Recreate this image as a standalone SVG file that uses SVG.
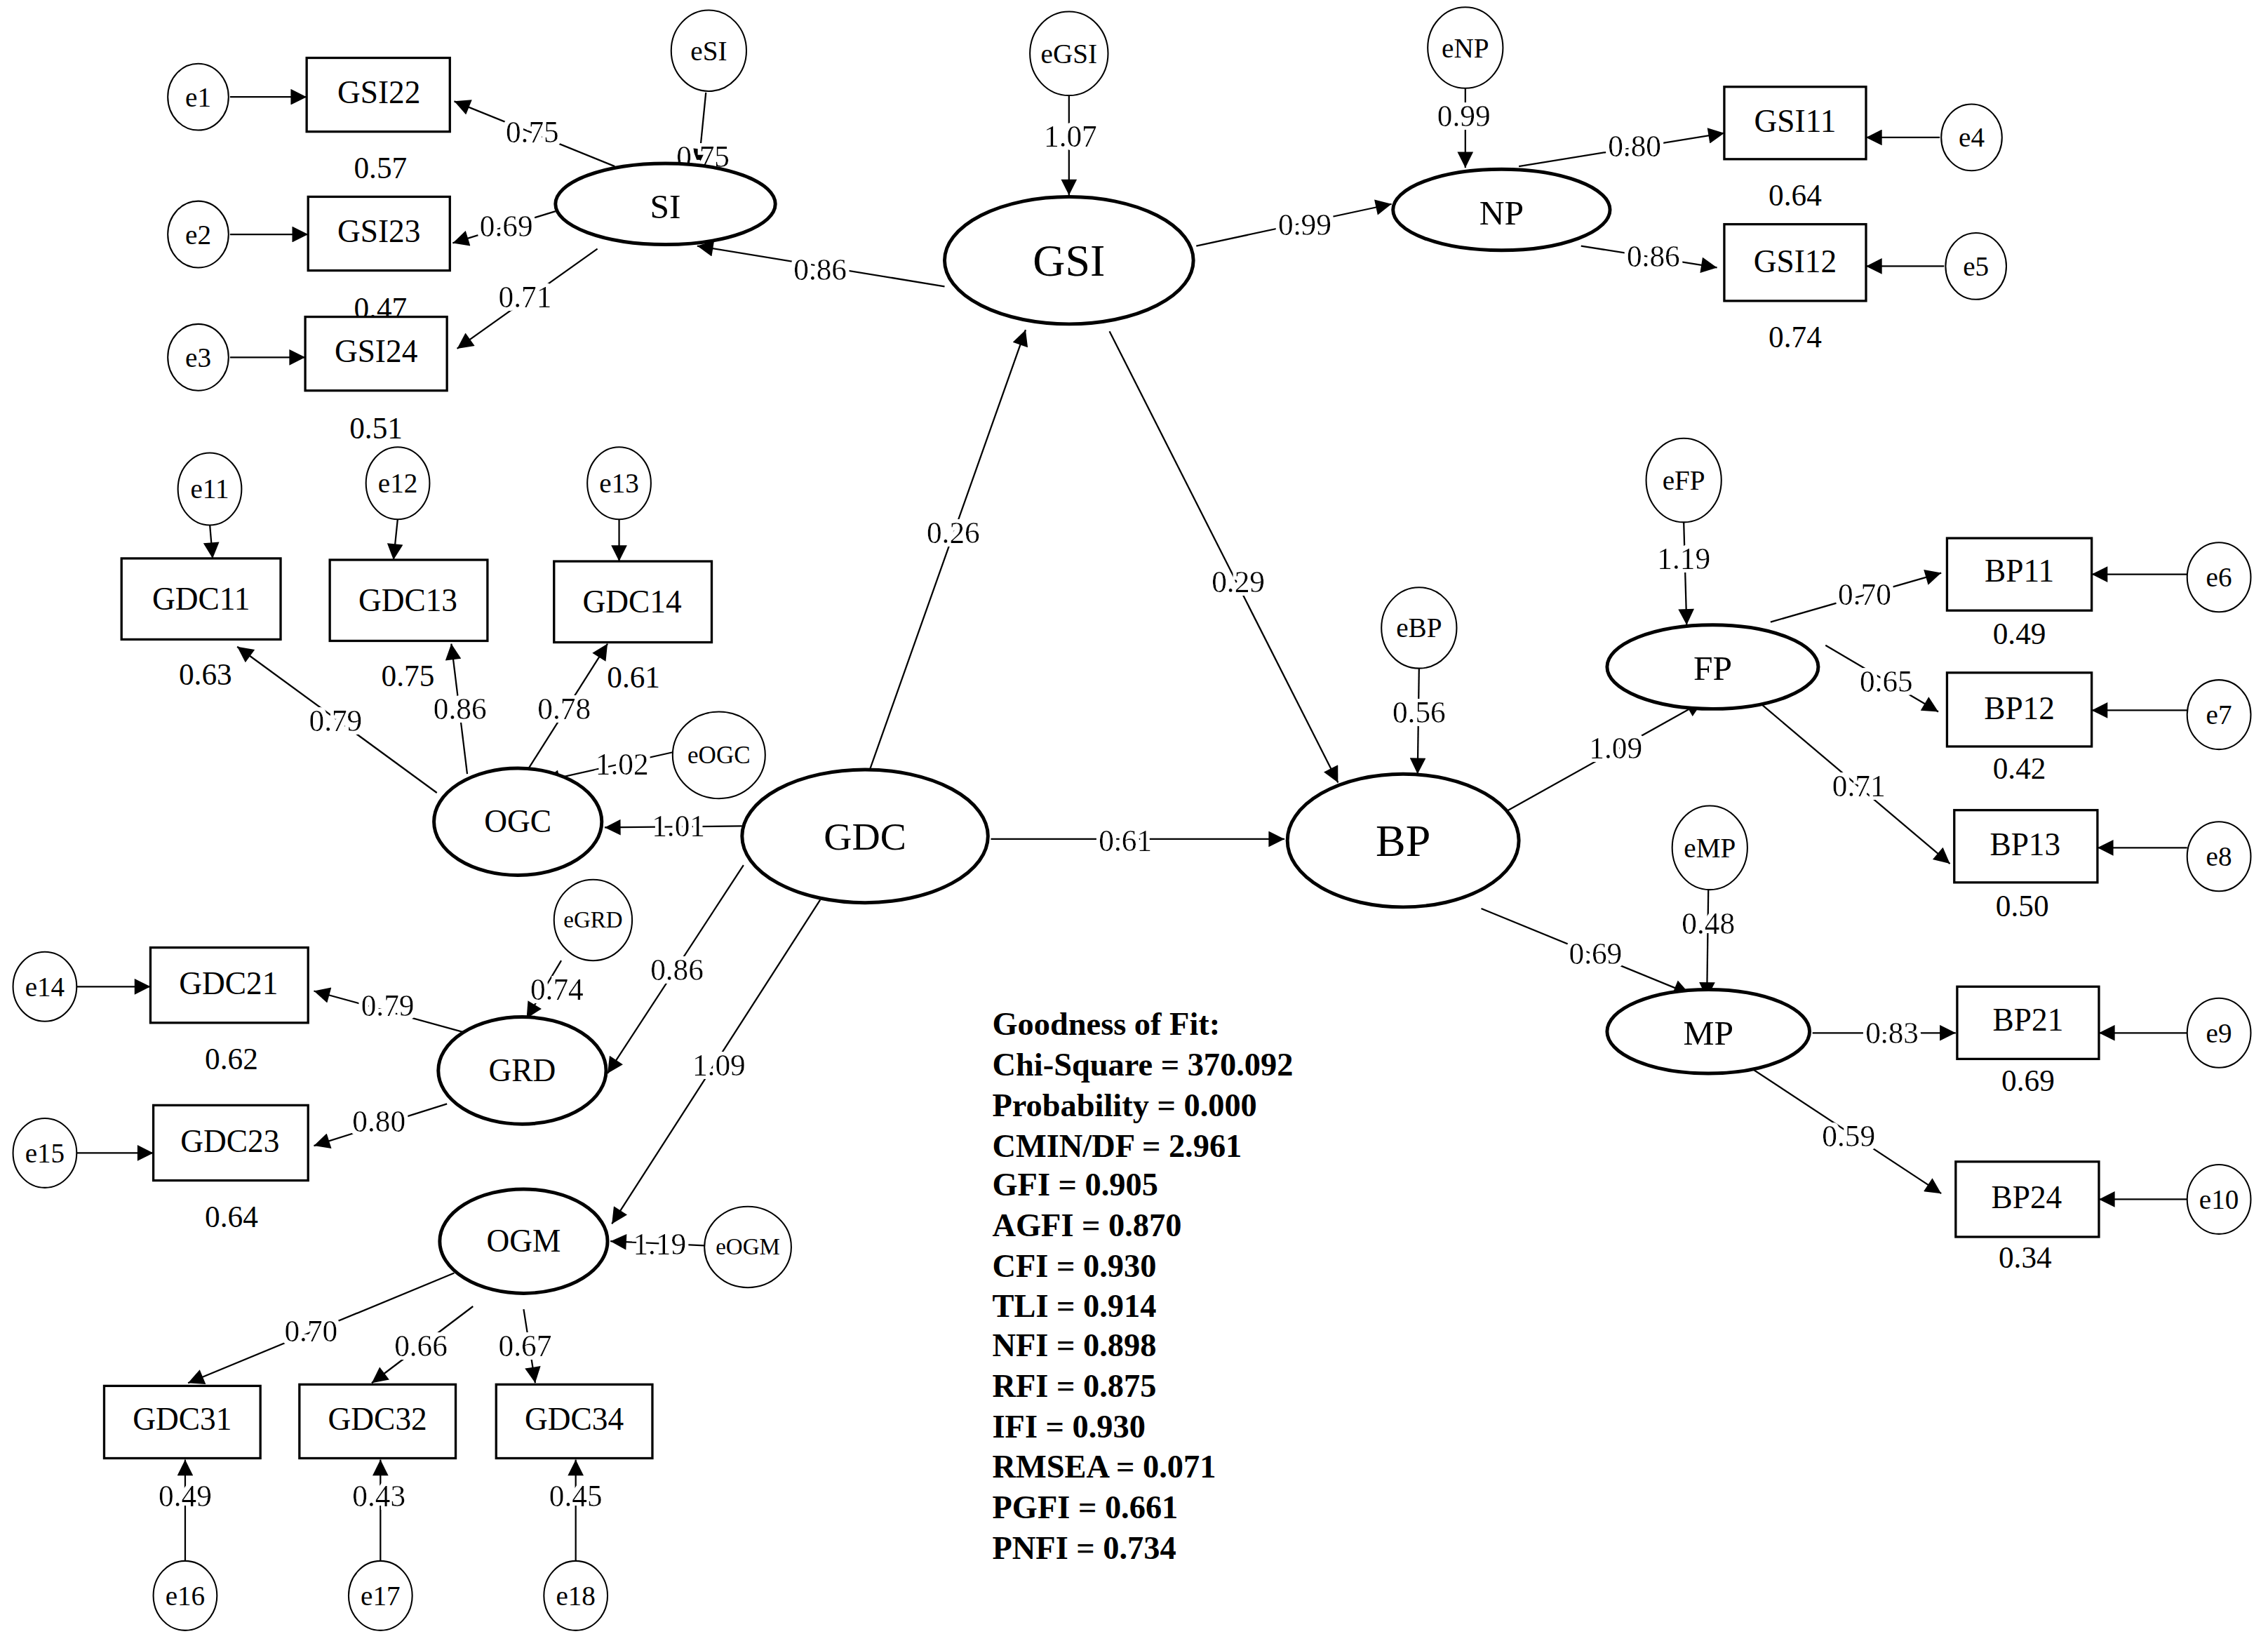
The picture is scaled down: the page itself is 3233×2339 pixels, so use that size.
<svg xmlns="http://www.w3.org/2000/svg" width="3233" height="2339" viewBox="0 0 3233 2339">
<style>
text{font-family:"Liberation Serif","Times New Roman",serif;text-anchor:middle;dominant-baseline:central;fill:#000}
.lab{font-size:22px}
.num{font-size:21px}
.nums text{filter:url(#halo)}
.err{font-size:19px}
.lat{font-size:24px}
.big{font-size:31px}
.e{fill:#fff;stroke:#000;stroke-width:1}
.r{fill:#fff;stroke:#000;stroke-width:1.6}
.l{fill:#fff;stroke:#000;stroke-width:2.4}
.c line{stroke:#000;stroke-width:1.1;marker-end:url(#a)}
.fit{font-size:22.5px;font-weight:bold;text-anchor:start}
</style>
<defs>
<marker id="a" viewBox="0 0 10 10" refX="10" refY="5" markerWidth="11" markerHeight="10" orient="auto"><path d="M0,0L10,5L0,10z" fill="#000"/></marker>
<filter id="halo" x="-20%" y="-20%" width="140%" height="140%"><feMorphology in="SourceAlpha" operator="dilate" radius="2.5" result="d"/><feFlood flood-color="#fff"/><feComposite in2="d" operator="in" result="w"/><feMerge><feMergeNode in="w"/><feMergeNode in="SourceGraphic"/></feMerge></filter>
</defs>
<rect width="3233" height="2339" fill="#fff"/>
<g transform="scale(2.062)">
<g id="connectors" class="c">
<line x1="159" y1="67" x2="212" y2="67"/><line x1="159" y1="162" x2="213" y2="162"/><line x1="159" y1="247" x2="211" y2="247"/>
<line x1="488" y1="64" x2="483" y2="114"/><line x1="739" y1="66" x2="739" y2="135"/><line x1="1013" y1="61" x2="1013" y2="116"/>
<line x1="425" y1="115" x2="314" y2="70"/><line x1="384" y1="146" x2="313" y2="168"/><line x1="413" y1="172" x2="316" y2="241"/>
<line x1="653" y1="198" x2="482" y2="170"/><line x1="827" y1="170" x2="962" y2="141"/>
<line x1="1050" y1="115" x2="1192" y2="92"/><line x1="1093" y1="170" x2="1187" y2="185"/>
<line x1="1341" y1="95" x2="1290" y2="95"/><line x1="1344" y1="184" x2="1290" y2="184"/>
<line x1="767" y1="229" x2="925" y2="541"/><line x1="596" y1="547" x2="709" y2="228"/>
<line x1="981" y1="462" x2="980" y2="535"/><line x1="685" y1="580" x2="888" y2="580"/>
<line x1="513" y1="571" x2="418" y2="572"/><line x1="465" y1="520" x2="376" y2="540"/>
<line x1="145" y1="362" x2="147" y2="386"/><line x1="275" y1="358" x2="272" y2="387"/><line x1="428" y1="358" x2="428" y2="388"/>
<line x1="302" y1="548" x2="164" y2="447"/><line x1="323" y1="535" x2="312" y2="445"/><line x1="363" y1="535" x2="420" y2="445"/>
<line x1="388" y1="664" x2="364" y2="704"/>
<line x1="53" y1="682" x2="104" y2="682"/><line x1="53" y1="797" x2="106" y2="797"/>
<line x1="326" y1="715" x2="217" y2="685"/><line x1="309" y1="763" x2="217" y2="792"/>
<line x1="514" y1="598" x2="420" y2="742"/><line x1="567" y1="622" x2="423" y2="846"/>
<line x1="487" y1="861" x2="422" y2="858"/>
<line x1="314" y1="880" x2="130" y2="956"/><line x1="327" y1="903" x2="257" y2="956"/><line x1="362" y1="905" x2="370" y2="956"/>
<line x1="128" y1="1079" x2="128" y2="1009"/><line x1="263" y1="1079" x2="263" y2="1009"/><line x1="398" y1="1079" x2="398" y2="1009"/>
<line x1="1164" y1="361" x2="1166" y2="432"/>
<line x1="1224" y1="430" x2="1342" y2="396"/><line x1="1262" y1="446" x2="1340" y2="492"/><line x1="1212" y1="482" x2="1348" y2="597"/>
<line x1="1512" y1="397" x2="1446" y2="397"/><line x1="1512" y1="491" x2="1446" y2="491"/><line x1="1512" y1="586" x2="1450" y2="586"/>
<line x1="1041" y1="561" x2="1177" y2="485"/>
<line x1="1181" y1="615" x2="1180" y2="690"/><line x1="1024" y1="628" x2="1168" y2="687"/>
<line x1="1253" y1="714" x2="1352" y2="714"/><line x1="1210" y1="738" x2="1342" y2="825"/>
<line x1="1512" y1="714" x2="1451" y2="714"/><line x1="1512" y1="829" x2="1451" y2="829"/>
<g class="nums">
<text class="num" x="368" y="91">0.75</text><text class="num" x="350" y="156">0.69</text><text class="num" x="363" y="205">0.71</text>
<text class="num" x="486" y="108">0.75</text><text class="num" x="740" y="94">1.07</text><text class="num" x="1012" y="80">0.99</text>
<text class="num" x="567" y="186">0.86</text><text class="num" x="902" y="155">0.99</text><text class="num" x="1130" y="101">0.80</text><text class="num" x="1143" y="177">0.86</text>
<text class="num" x="856" y="402">0.29</text><text class="num" x="659" y="368">0.26</text><text class="num" x="981" y="492">0.56</text>
<text class="num" x="778" y="581">0.61</text><text class="num" x="469" y="571">1.01</text><text class="num" x="430" y="528">1.02</text>
<text class="num" x="232" y="498">0.79</text><text class="num" x="318" y="490">0.86</text><text class="num" x="390" y="490">0.78</text>
<text class="num" x="385" y="684">0.74</text><text class="num" x="268" y="695">0.79</text><text class="num" x="262" y="775">0.80</text>
<text class="num" x="468" y="670">0.86</text><text class="num" x="497" y="736">1.09</text><text class="num" x="456" y="860">1.19</text>
<text class="num" x="215" y="920">0.70</text><text class="num" x="291" y="930">0.66</text><text class="num" x="363" y="930">0.67</text>
<text class="num" x="1164" y="386">1.19</text><text class="num" x="1289" y="411">0.70</text><text class="num" x="1304" y="471">0.65</text><text class="num" x="1285" y="543">0.71</text>
<text class="num" x="1117" y="517">1.09</text><text class="num" x="1181" y="638">0.48</text><text class="num" x="1103" y="659">0.69</text>
<text class="num" x="1308" y="714">0.83</text><text class="num" x="1278" y="785">0.59</text>
<text class="num" x="128" y="1034">0.49</text><text class="num" x="262" y="1034">0.43</text><text class="num" x="398" y="1034">0.45</text>
</g>
</g>
<g id="e1"><ellipse class="e" cx="137" cy="67" rx="21" ry="23"/><text class="err" x="137" y="67">e1</text></g>
<g id="e2"><ellipse class="e" cx="137" cy="162" rx="21" ry="23"/><text class="err" x="137" y="162">e2</text></g>
<g id="e3"><ellipse class="e" cx="137" cy="247" rx="21" ry="23"/><text class="err" x="137" y="247">e3</text></g>
<g id="GSI22"><rect class="r" x="212" y="40" width="99" height="51"/><text class="lab" x="262" y="64">GSI22</text><text class="num" x="263" y="116">0.57</text></g>
<g id="GSI23"><rect class="r" x="213" y="136" width="98" height="51"/><text class="lab" x="262" y="160">GSI23</text><text class="num" x="263" y="213">0.47</text></g>
<g id="GSI24"><rect class="r" x="211" y="219" width="98" height="51"/><text class="lab" x="260" y="243">GSI24</text><text class="num" x="260" y="296">0.51</text></g>
<g id="eSI"><ellipse class="e" cx="490" cy="35" rx="26" ry="28"/><text class="err" x="490" y="35">eSI</text></g>
<g id="SI"><ellipse class="l" cx="460" cy="141" rx="76" ry="28"/><text class="lat" x="460" y="143">SI</text></g>
<g id="eGSI"><ellipse class="e" cx="739" cy="37" rx="27" ry="29"/><text class="err" x="739" y="37">eGSI</text></g>
<g id="GSI"><ellipse class="l" cx="739" cy="180" rx="86" ry="44"/><text class="big" x="739" y="180">GSI</text></g>
<g id="eNP"><ellipse class="e" cx="1013" cy="33" rx="26" ry="28"/><text class="err" x="1013" y="33">eNP</text></g>
<g id="NP"><ellipse class="l" cx="1038" cy="145" rx="75" ry="28"/><text class="lat" x="1038" y="147">NP</text></g>
<g id="GSI11"><rect class="r" x="1192" y="60" width="98" height="50"/><text class="lab" x="1241" y="84">GSI11</text><text class="num" x="1241" y="135">0.64</text></g>
<g id="GSI12"><rect class="r" x="1192" y="155" width="98" height="53"/><text class="lab" x="1241" y="181">GSI12</text><text class="num" x="1241" y="233">0.74</text></g>
<g id="e4"><ellipse class="e" cx="1363" cy="95" rx="21" ry="23"/><text class="err" x="1363" y="95">e4</text></g>
<g id="e5"><ellipse class="e" cx="1366" cy="184" rx="21" ry="23"/><text class="err" x="1366" y="184">e5</text></g>
<g id="e11"><ellipse class="e" cx="145" cy="338" rx="22" ry="25"/><text class="err" x="145" y="338">e11</text></g>
<g id="e12"><ellipse class="e" cx="275" cy="334" rx="22" ry="25"/><text class="err" x="275" y="334">e12</text></g>
<g id="e13"><ellipse class="e" cx="428" cy="334" rx="22" ry="25"/><text class="err" x="428" y="334">e13</text></g>
<g id="GDC11"><rect class="r" x="84" y="386" width="110" height="56"/><text class="lab" x="139" y="414">GDC11</text><text class="num" x="142" y="466">0.63</text></g>
<g id="GDC13"><rect class="r" x="228" y="387" width="109" height="56"/><text class="lab" x="282" y="415">GDC13</text><text class="num" x="282" y="467">0.75</text></g>
<g id="GDC14"><rect class="r" x="383" y="388" width="109" height="56"/><text class="lab" x="437" y="416">GDC14</text><text class="num" x="438" y="468">0.61</text></g>
<g id="eOGC"><ellipse class="e" cx="497" cy="522" rx="32" ry="30"/><text class="err" x="497" y="522" style="font-size:17px">eOGC</text></g>
<g id="OGC"><ellipse class="l" cx="358" cy="568" rx="58" ry="37"/><text class="lab" x="358" y="568">OGC</text></g>
<g id="GDC"><ellipse class="l" cx="598" cy="578" rx="85" ry="46"/><text class="lat" x="598" y="578" style="font-size:27px">GDC</text></g>
<g id="eBP"><ellipse class="e" cx="981" cy="434" rx="26" ry="28"/><text class="err" x="981" y="434">eBP</text></g>
<g id="BP"><ellipse class="l" cx="970" cy="581" rx="80" ry="46"/><text class="big" x="970" y="581">BP</text></g>
<g id="eGRD"><ellipse class="e" cx="410" cy="636" rx="27" ry="28"/><text class="err" x="410" y="636" style="font-size:16px">eGRD</text></g>
<g id="GRD"><ellipse class="l" cx="361" cy="740" rx="58" ry="37"/><text class="lab" x="361" y="740">GRD</text></g>
<g id="e14"><ellipse class="e" cx="31" cy="682" rx="22" ry="24"/><text class="err" x="31" y="682">e14</text></g>
<g id="e15"><ellipse class="e" cx="31" cy="797" rx="22" ry="24"/><text class="err" x="31" y="797">e15</text></g>
<g id="GDC21"><rect class="r" x="104" y="655" width="109" height="52"/><text class="lab" x="158" y="680">GDC21</text><text class="num" x="160" y="732">0.62</text></g>
<g id="GDC23"><rect class="r" x="106" y="764" width="107" height="52"/><text class="lab" x="159" y="789">GDC23</text><text class="num" x="160" y="841">0.64</text></g>
<g id="eOGM"><ellipse class="e" cx="517" cy="862" rx="30" ry="28"/><text class="err" x="517" y="862" style="font-size:16px">eOGM</text></g>
<g id="OGM"><ellipse class="l" cx="362" cy="858" rx="58" ry="36"/><text class="lab" x="362" y="858">OGM</text></g>
<g id="GDC31"><rect class="r" x="72" y="958" width="108" height="50"/><text class="lab" x="126" y="981">GDC31</text></g>
<g id="GDC32"><rect class="r" x="207" y="957" width="108" height="51"/><text class="lab" x="261" y="981">GDC32</text></g>
<g id="GDC34"><rect class="r" x="343" y="957" width="108" height="51"/><text class="lab" x="397" y="981">GDC34</text></g>
<g id="e16"><ellipse class="e" cx="128" cy="1103" rx="22" ry="24"/><text class="err" x="128" y="1103">e16</text></g>
<g id="e17"><ellipse class="e" cx="263" cy="1103" rx="22" ry="24"/><text class="err" x="263" y="1103">e17</text></g>
<g id="e18"><ellipse class="e" cx="398" cy="1103" rx="22" ry="24"/><text class="err" x="398" y="1103">e18</text></g>
<g id="eFP"><ellipse class="e" cx="1164" cy="332" rx="26" ry="29"/><text class="err" x="1164" y="332">eFP</text></g>
<g id="FP"><ellipse class="l" cx="1184" cy="461" rx="73" ry="29"/><text class="lat" x="1184" y="462">FP</text></g>
<g id="BP11"><rect class="r" x="1346" y="372" width="100" height="50"/><text class="lab" x="1396" y="395">BP11</text><text class="num" x="1396" y="438">0.49</text></g>
<g id="BP12"><rect class="r" x="1346" y="465" width="100" height="51"/><text class="lab" x="1396" y="490">BP12</text><text class="num" x="1396" y="531">0.42</text></g>
<g id="BP13"><rect class="r" x="1351" y="560" width="99" height="50"/><text class="lab" x="1400" y="584">BP13</text><text class="num" x="1398" y="626">0.50</text></g>
<g id="e6"><ellipse class="e" cx="1534" cy="399" rx="22" ry="24"/><text class="err" x="1534" y="399">e6</text></g>
<g id="e7"><ellipse class="e" cx="1534" cy="494" rx="22" ry="24"/><text class="err" x="1534" y="494">e7</text></g>
<g id="e8"><ellipse class="e" cx="1534" cy="592" rx="22" ry="24"/><text class="err" x="1534" y="592">e8</text></g>
<g id="eMP"><ellipse class="e" cx="1182" cy="586" rx="26" ry="29"/><text class="err" x="1182" y="586">eMP</text></g>
<g id="MP"><ellipse class="l" cx="1181" cy="713" rx="70" ry="29"/><text class="lat" x="1181" y="714">MP</text></g>
<g id="BP21"><rect class="r" x="1353" y="682" width="98" height="50"/><text class="lab" x="1402" y="705">BP21</text><text class="num" x="1402" y="747">0.69</text></g>
<g id="BP24"><rect class="r" x="1352" y="803" width="99" height="52"/><text class="lab" x="1401" y="828">BP24</text><text class="num" x="1400" y="869">0.34</text></g>
<g id="e9"><ellipse class="e" cx="1534" cy="714" rx="22" ry="24"/><text class="err" x="1534" y="714">e9</text></g>
<g id="e10"><ellipse class="e" cx="1534" cy="829" rx="22" ry="24"/><text class="err" x="1534" y="829">e10</text></g>
<g id="fit">
<text class="fit" x="686" y="708">Goodness of Fit:</text>
<text class="fit" x="686" y="736">Chi-Square = 370.092</text>
<text class="fit" x="686" y="764">Probability = 0.000</text>
<text class="fit" x="686" y="792">CMIN/DF = 2.961</text>
<text class="fit" x="686" y="819">GFI = 0.905</text>
<text class="fit" x="686" y="847">AGFI = 0.870</text>
<text class="fit" x="686" y="875">CFI = 0.930</text>
<text class="fit" x="686" y="903">TLI = 0.914</text>
<text class="fit" x="686" y="930">NFI = 0.898</text>
<text class="fit" x="686" y="958">RFI = 0.875</text>
<text class="fit" x="686" y="986">IFI = 0.930</text>
<text class="fit" x="686" y="1014">RMSEA = 0.071</text>
<text class="fit" x="686" y="1042">PGFI = 0.661</text>
<text class="fit" x="686" y="1070">PNFI = 0.734</text>
</g>
</g>
</svg>
